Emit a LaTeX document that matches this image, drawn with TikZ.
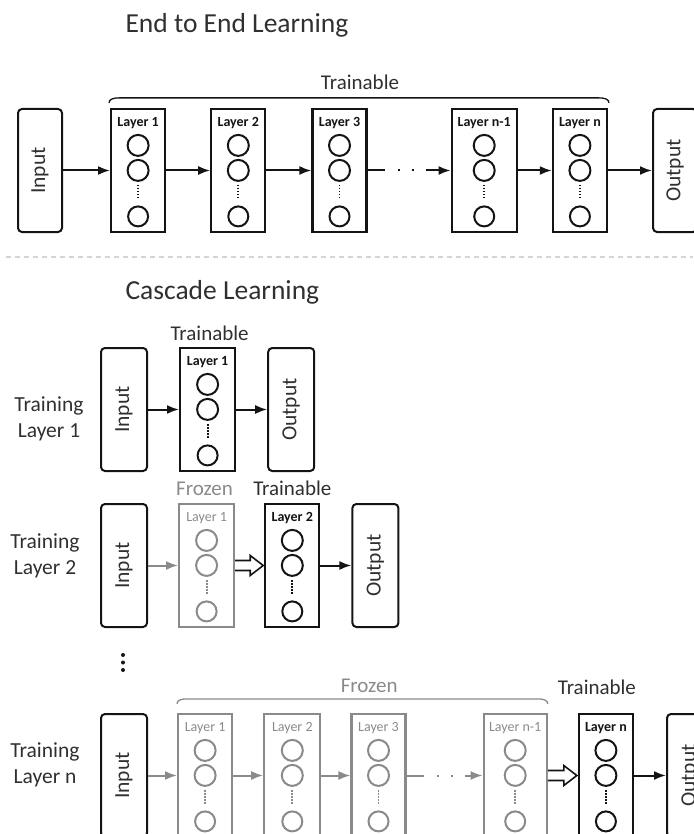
\documentclass[tikz,border=0pt]{standalone}
\usepackage{fontspec}
\setmainfont{Carlito}
\usepackage{tikz}
\usetikzlibrary{arrows.meta,positioning,calc}
\definecolor{inkdark}{HTML}{141414}
\definecolor{textgray}{HTML}{303030}
\definecolor{frozengray}{HTML}{8A8A8A}
\definecolor{rulegray}{HTML}{D4D4D4}
\tikzset{
  io/.style={
    rectangle,
    rounded corners=4pt,
    draw=inkdark,
    line width=2pt,
    minimum width=44pt,
    minimum height=123pt,
    inner sep=0pt,
    text=textgray,
    font=\fontsize{21.5}{24}\selectfont
  },
  layerbox/.style={
    rectangle,
    draw=inkdark,
    line width=2.2pt,
    minimum width=54pt,
    minimum height=123pt,
    inner sep=0pt
  },
  frozenbox/.style={layerbox, draw=frozengray},
  unit/.style={draw=inkdark, line width=2pt},
  frozenunit/.style={unit, draw=frozengray},
  unitname/.style={text=inkdark, font=\fontsize{14}{14}\selectfont\bfseries},
  frozenname/.style={text=frozengray, font=\fontsize{14}{14}\selectfont},
  line/.style={-{Latex[length=12pt,width=9pt]}, line width=2pt, draw=inkdark},
  frozenline/.style={line, draw=frozengray},
  gapline/.style={dash pattern=on 17pt off 13pt on 2pt off 12pt on 2pt off 12pt on 80pt},
  hollowline/.style={draw=inkdark, fill=white, line width=1.6pt, line join=miter},
  brace/.style={line width=1.3pt, draw=inkdark},
  frozenbrace/.style={brace, draw=frozengray},
  tag/.style={text=textgray, font=\fontsize{21}{24}\selectfont},
  frozentag/.style={tag, text=frozengray},
  rowname/.style={text=textgray, align=center, font=\fontsize{21.5}{26}\selectfont},
  title/.style={text=textgray, font=\fontsize{27.5}{30}\selectfont},
  sepline/.style={draw=rulegray, line width=1.3pt, dash pattern=on 5pt off 4pt}
}
\newcommand{\layerunits}[4]{%
  \node[#4] (#1name) at ($(#1.north)+(0,15)$) {#2};
  \draw[#3] ($(#1.north)+(0,37.5)$) circle (10.5pt);
  \draw[#3] ($(#1.north)+(0,62.5)$) circle (10.5pt);
  \draw[#3] ($(#1.north)+(0,108.5)$) circle (10pt);
  \draw[#3, line width=1.8pt, dash pattern=on 1.6pt off 1.4pt] ($(#1.north)+(0,77)$) -- ($(#1.north)+(0,91)$);
}
\newcommand{\hollowarrow}[2]{%
  \draw[hollowline] ($(#1.east)+(0,-5)$) -- ($(#2.west)+(-14,-5)$) -- ($(#2.west)+(-14,-10)$)
    -- ($(#2.west)+(-1,0)$) -- ($(#2.west)+(-14,10)$) -- ($(#2.west)+(-14,5)$) -- ($(#1.east)+(0,5)$);
}
\begin{document}
\begin{tikzpicture}[x=1pt, y=-1pt]
  \useasboundingbox (0,0) rectangle (693,834);

  \node[title, anchor=base west] (ttlend) at (122,33) {End to End Learning};

  \node[io] (in) at (40,170.5) {\rotatebox{90}{Input}};
  \node[layerbox, right=47pt of in] (l1) {};
  \node[layerbox, right=44pt of l1] (l2) {};
  \node[layerbox, right=45pt of l2] (l3) {};
  \node[layerbox, minimum width=65pt, right=83pt of l3] (lm) {};
  \node[layerbox, right=34pt of lm] (ln) {};
  \node[io, right=44pt of ln] (out) {\rotatebox{90}{Output}};
  \layerunits{l1}{Layer 1}{unit}{unitname}
  \layerunits{l2}{Layer 2}{unit}{unitname}
  \layerunits{l3}{Layer 3}{unit}{unitname}
  \layerunits{lm}{Layer n-1}{unit}{unitname}
  \layerunits{ln}{Layer n}{unit}{unitname}

  \draw[line] (in) -- (l1);
  \draw[line] (l1) -- (l2);
  \draw[line] (l2) -- (l3);
  \draw[line, gapline] (l3) -- (lm);
  \draw[line] (lm) -- (ln);
  \draw[line] (ln) -- (out);
  \draw[brace] ($(l1.north west)+(-1,-5)$) .. controls +(0,-4) and +(-5,0) .. ++(10,-5)
    -- ($(ln.north east)+(-9,-10)$) .. controls +(5,0) and +(0,-4) .. ++(10,5);
  \node[tag, anchor=base] (tagtop) at ($(l1.north)!.5!(ln.north)+(1,-18)$) {Trainable};

  \draw[sepline] (6,257) -- (693,257);

  \node[title, anchor=base west] (ttlcas) at (122,299) {Cascade Learning};

  \node[io, minimum width=46pt] (inA) at (124,409.5) {\rotatebox{90}{Input}};
  \node[layerbox, minimum width=55pt, right=31pt of inA] (aL1) {};
  \node[io, minimum width=46pt, right=31pt of aL1] (outA) {\rotatebox{90}{Output}};
  \layerunits{aL1}{Layer 1}{unit}{unitname}
  \draw[line] (inA) -- (aL1);
  \draw[line] (aL1) -- (outA);
  \node[tag, anchor=base] (tagA) at ($(aL1.north)+(2,-6)$) {Trainable};
  \node[rowname] (rowA) at (49,419) {Training\\Layer 1};

  \node[io, minimum width=46pt] (inB) at (124,565.5) {\rotatebox{90}{Input}};
  \node[frozenbox, minimum width=55pt, right=30pt of inB] (bL1) {};
  \node[layerbox, right=29pt of bL1] (bL2) {};
  \node[io, minimum width=46pt, right=31pt of bL2] (outB) {\rotatebox{90}{Output}};
  \layerunits{bL1}{Layer 1}{frozenunit}{frozenname}
  \layerunits{bL2}{Layer 2}{unit}{unitname}
  \draw[frozenline] (inB) -- (bL1);
  \hollowarrow{bL1}{bL2}
  \draw[line] (bL2) -- (outB);
  \node[frozentag, anchor=base] (frzB) at ($(bL1.north)+(-2,-7)$) {Frozen};
  \node[tag, anchor=base] (tagB) at ($(bL2.north)+(0,-7)$) {Trainable};
  \node[rowname] (rowB) at (45,556) {Training\\Layer 2};

  \foreach \dy in {655,662.5,670}
    \fill[inkdark] (123,\dy) circle (2pt);

  \node[io, minimum width=46pt] (inC) at (124,775.5) {\rotatebox{90}{Input}};
  \node[frozenbox, right=29pt of inC] (cL1) {};
  \node[frozenbox, minimum width=56pt, right=30pt of cL1] (cL2) {};
  \node[frozenbox, right=29pt of cL2] (cL3) {};
  \node[frozenbox, minimum width=63pt, right=76pt of cL3] (cL4) {};
  \node[layerbox, right=30pt of cL4] (cL5) {};
  \node[io, minimum width=46pt, right=32pt of cL5] (outC) {\rotatebox{90}{Output}};
  \layerunits{cL1}{Layer 1}{frozenunit}{frozenname}
  \layerunits{cL2}{Layer 2}{frozenunit}{frozenname}
  \layerunits{cL3}{Layer 3}{frozenunit}{frozenname}
  \layerunits{cL4}{Layer n-1}{frozenunit}{frozenname}
  \layerunits{cL5}{Layer n}{unit}{unitname}
  \draw[frozenline] (inC) -- (cL1);
  \draw[frozenline] (cL1) -- (cL2);
  \draw[frozenline] (cL2) -- (cL3);
  \draw[frozenline, gapline] (cL3) -- (cL4);
  \hollowarrow{cL4}{cL5}
  \draw[line] (cL5) -- (outC);
  \draw[frozenbrace] ($(cL1.north west)+(0,-9)$) .. controls +(0,-4) and +(-5,0) .. ++(10,-5)
    -- ($(cL4.north east)+(-10,-14)$) .. controls +(5,0) and +(0,-4) .. ++(10,5);
  \node[frozentag, anchor=base] (frzC) at ($(cL1.north)!.5!(cL4.north)+(9,-20)$) {Frozen};
  \node[tag, anchor=base] (tagC) at ($(cL5.north)+(-9,-18)$) {Trainable};
  \node[rowname] (rowC) at (45,765) {Training\\Layer n};
\end{tikzpicture}
\end{document}
